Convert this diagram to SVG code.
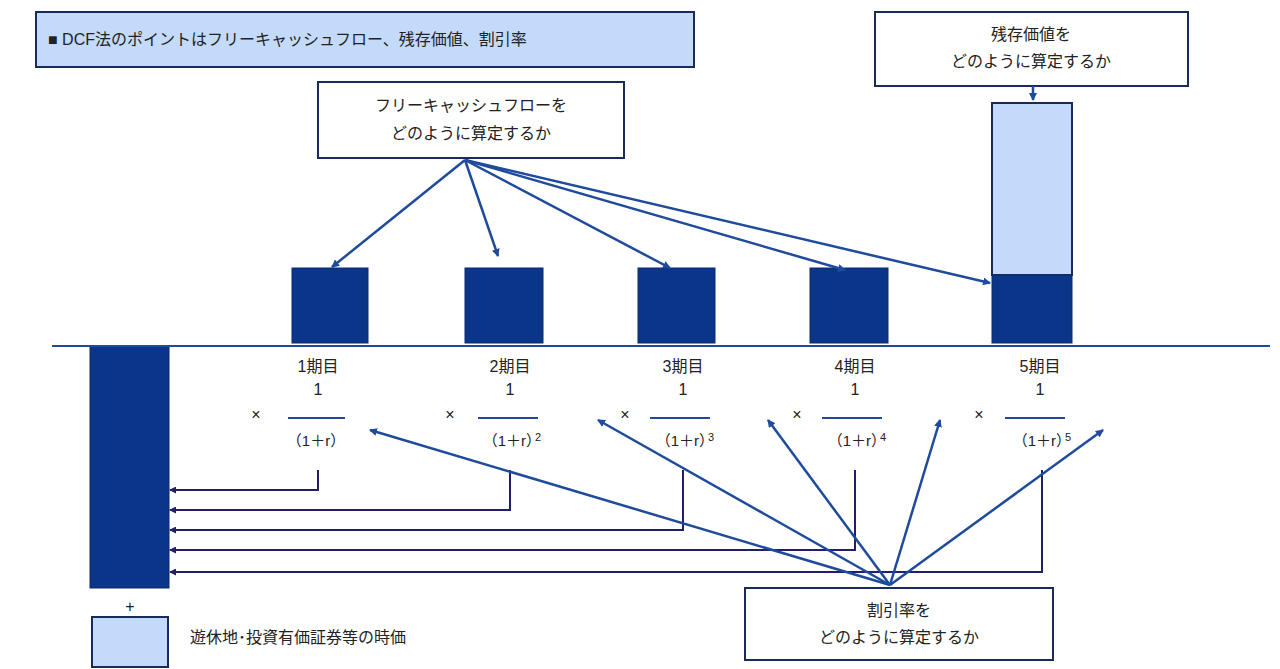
<svg xmlns="http://www.w3.org/2000/svg" width="1280" height="669" viewBox="0 0 1280 669">
<style>
text{font-family:"Liberation Sans","Noto Sans CJK JP",sans-serif;font-size:16px;fill:#222}
.c{text-anchor:middle}
.f{font-size:15px}
.box{fill:#fff;stroke:#1a2a5a;stroke-width:2}
.lb{fill:#c3dafa;stroke:#1a2a5a;stroke-width:2}
.dk{fill:#0b3589;stroke:#0a2a70;stroke-width:1}
.ar{stroke:#1e4b9c;stroke-width:2.5;fill:none;marker-end:url(#a)}
.br{stroke:#1f1f6b;stroke-width:2;fill:none;marker-end:url(#b)}
.fr{stroke:#1e4b9c;stroke-width:2}
</style>
<defs>
<marker id="a" markerWidth="8" markerHeight="8" refX="7" refY="4" orient="auto" markerUnits="userSpaceOnUse" viewBox="0 0 8 8"><path d="M0,0L8,4L0,8z" fill="#1e4b9c"/></marker>
<marker id="b" markerWidth="7" markerHeight="7" refX="6" refY="3.5" orient="auto" markerUnits="userSpaceOnUse" viewBox="0 0 7 7"><path d="M0,0L7,3.5L0,7z" fill="#1f1f6b"/></marker>
</defs>
<rect width="1280" height="669" fill="#fff"/>
<g id="title"><rect class="lb" x="36" y="12" width="658" height="55"/><text x="48" y="45">■ DCF法のポイントはフリーキャッシュフロー、残存価値、割引率</text></g>
<g id="fcfbox"><rect class="box" x="318" y="82" width="306" height="76"/><text class="c" x="471" y="111">フリーキャッシュフローを</text><text class="c" x="471" y="139">どのように算定するか</text></g>
<g id="tvbox"><rect class="box" x="875" y="12" width="313" height="74"/><text class="c" x="1031" y="40">残存価値を</text><text class="c" x="1031" y="67">どのように算定するか</text></g>
<g id="bars">
<rect class="lb" x="992" y="103" width="80" height="172"/><rect class="dk" x="992" y="275" width="80" height="68"/>
<rect class="dk" x="292" y="268" width="76" height="75"/><rect class="dk" x="465" y="268" width="78" height="75"/><rect class="dk" x="638" y="268" width="77" height="75"/><rect class="dk" x="810" y="268" width="78" height="75"/>
<rect class="dk" x="90" y="346" width="79" height="242"/>
</g>
<line x1="52" y1="346" x2="1270" y2="346" stroke="#1e4b9c" stroke-width="2"/>
<g id="periods">
<text class="c" x="318" y="372">1期目</text><text class="c" x="318" y="395">1</text><text class="c" x="256" y="420">×</text><line class="fr" x1="288" y1="418" x2="345" y2="418"/><text class="c f" x="316" y="446">（1＋r）</text>
<text class="c" x="510" y="372">2期目</text><text class="c" x="510" y="395">1</text><text class="c" x="450" y="420">×</text><line class="fr" x1="478" y1="418" x2="538" y2="418"/><text class="c f" x="512" y="446">（1＋r）<tspan dx="-6" font-size="11" dy="-5">2</tspan></text>
<text class="c" x="683" y="372">3期目</text><text class="c" x="683" y="395">1</text><text class="c" x="625" y="420">×</text><line class="fr" x1="650" y1="418" x2="710" y2="418"/><text class="c f" x="685" y="446">（1＋r）<tspan dx="-6" font-size="11" dy="-5">3</tspan></text>
<text class="c" x="855" y="372">4期目</text><text class="c" x="855" y="395">1</text><text class="c" x="797" y="420">×</text><line class="fr" x1="822" y1="418" x2="882" y2="418"/><text class="c f" x="857" y="446">（1＋r）<tspan dx="-6" font-size="11" dy="-5">4</tspan></text>
<text class="c" x="1040" y="372">5期目</text><text class="c" x="1040" y="395">1</text><text class="c" x="979" y="420">×</text><line class="fr" x1="1005" y1="418" x2="1065" y2="418"/><text class="c f" x="1042" y="446">（1＋r）<tspan dx="-6" font-size="11" dy="-5">5</tspan></text>
</g>
<g id="connectors">
<path class="br" d="M318,470V490H170"/>
<path class="br" d="M510,470V510H170"/>
<path class="br" d="M683,470V530H170"/>
<path class="br" d="M855,470V550H170"/>
<path class="br" d="M1042,470V572H170"/>
<line class="ar" x1="465" y1="160" x2="332" y2="267"/>
<line class="ar" x1="465" y1="160" x2="498" y2="256"/>
<line class="ar" x1="465" y1="160" x2="670" y2="268"/>
<line class="ar" x1="465" y1="160" x2="845" y2="270"/>
<line class="ar" x1="465" y1="160" x2="990" y2="283"/>
<line class="ar" x1="1033" y1="86" x2="1033" y2="100"/>
<line class="ar" x1="890" y1="585" x2="370" y2="430"/>
<line class="ar" x1="890" y1="585" x2="598" y2="420"/>
<line class="ar" x1="890" y1="585" x2="768" y2="420"/>
<line class="ar" x1="890" y1="585" x2="940" y2="420"/>
<line class="ar" x1="890" y1="585" x2="1103" y2="430"/>
</g>
<g id="discbox"><rect class="box" x="745" y="588" width="308" height="72"/><text class="c" x="899" y="616">割引率を</text><text class="c" x="899" y="643">どのように算定するか</text></g>
<g id="legend"><text class="c" x="130" y="612">+</text><rect class="lb" x="92" y="617" width="76" height="50"/><text x="190" y="643">遊休地･投資有価証券等の時価</text></g>
</svg>
